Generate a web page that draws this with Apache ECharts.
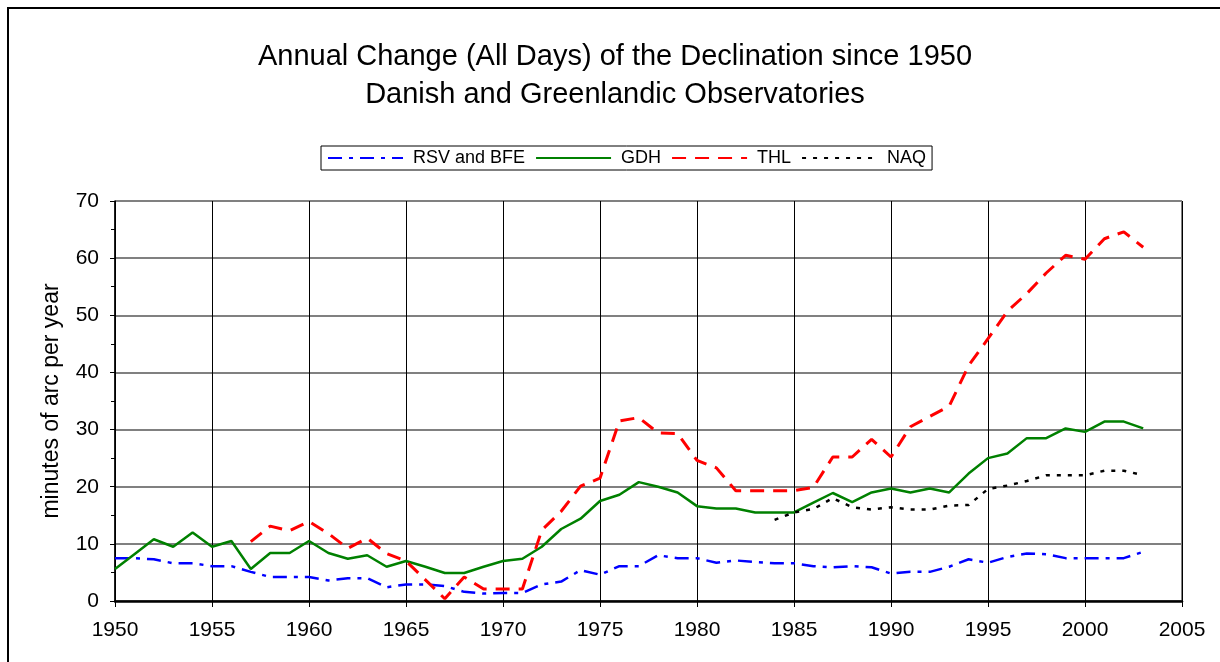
<!DOCTYPE html>
<html>
<head>
<meta charset="utf-8">
<title>Annual Change of the Declination</title>
<script src="https://cdn.jsdelivr.net/npm/echarts@6/dist/echarts.min.js"></script>
<style>
  html, body { margin: 0; padding: 0; background: #fff; }
  #chart { width: 1220px; height: 662px; }
</style>
</head>
<body>
<div id="chart"></div>
<script>
// years 1950 - 2003
const years = [];
for (let y = 1950; y <= 2003; y++) years.push(y);

const rsvBfe = [7.5, 7.5, 7.3, 6.6, 6.6, 6.1, 6.1, 5.1, 4.2, 4.2,
  4.2, 3.6, 4.0, 4.0, 2.4, 2.9, 2.9, 2.6, 1.6, 1.3,
  1.4, 1.4, 2.9, 3.4, 5.4, 4.6, 6.1, 6.1, 8.0, 7.5,
  7.5, 6.7, 7.1, 6.8, 6.6, 6.6, 6.1, 5.9, 6.1, 5.9,
  4.8, 5.1, 5.1, 6.0, 7.3, 6.7, 7.7, 8.3, 8.2, 7.5,
  7.5, 7.5, 7.5, 8.6];

const gdh = [5.6, 8.2, 10.8, 9.5, 12.0, 9.5, 10.5, 5.6, 8.4, 8.4,
  10.5, 8.4, 7.4, 8.0, 6.0, 7.0, 6.0, 4.9, 4.9, 6.0,
  7.0, 7.4, 9.5, 12.6, 14.4, 17.5, 18.6, 20.8, 20.0, 19.0,
  16.6, 16.2, 16.2, 15.5, 15.5, 15.5, 17.2, 18.9, 17.3, 19.0,
  19.7, 19.0, 19.7, 19.0, 22.3, 25.0, 25.8, 28.5, 28.5, 30.2,
  29.6, 31.4, 31.4, 30.2];

const thl = [null, null, null, null, null, null, null, 10.4, 13.1, 12.3,
  13.9, 11.8, 9.2, 11.0, 8.3, 7.0, 3.7, 0.4, 4.2, 2.1,
  2.1, 2.1, 12.4, 15.7, 20.1, 21.5, 31.5, 32.1, 29.4, 29.3,
  24.6, 23.3, 19.3, 19.3, 19.3, 19.3, 19.9, 25.2, 25.2, 28.3,
  25.2, 30.5, 32.3, 34.1, 41.2, 45.9, 50.7, 53.8, 57.4, 60.5,
  59.8, 63.4, 64.6, 61.9];

const naq = [null, null, null, null, null, null, null, null, null, null,
  null, null, null, null, null, null, null, null, null, null,
  null, null, null, null, null, null, null, null, null, null,
  null, null, null, null, 14.2, 15.5, 16.1, 18.0, 16.4, 16.0,
  16.4, 16.0, 16.0, 16.7, 16.8, 19.6, 20.2, 21.0, 22.0, 22.0,
  22.0, 22.8, 22.8, 22.0];

const pairs = arr => years.map((y, i) => [y, arr[i]]);

const font = 'Liberation Sans, Arial, sans-serif';
const chart = echarts.init(document.getElementById('chart'));

chart.setOption({
  animation: false,
  backgroundColor: '#fff',
  textStyle: { fontFamily: font },
  legend: {
    left: 321,
    top: 146,
    padding: [3, 6],
    itemGap: 10,
    itemWidth: 75,
    itemHeight: 14,
    borderColor: '#000',
    borderWidth: 1,
    itemStyle: { opacity: 0 },
    textStyle: { fontFamily: font, fontSize: 18, color: '#000', padding: [0, 0, 0, 5] },
    data: ['RSV and BFE', 'GDH', 'THL', 'NAQ']
  },
  grid: { left: 115, top: 201, right: 38, bottom: 61, show: true, borderColor: '#000', borderWidth: 1 },
  graphic: [
    {
      type: 'rect',
      shape: { x: 8, y: 8, width: 1400, height: 900 },
      style: { fill: 'none', stroke: '#000', lineWidth: 2 }
    },
    {
      type: 'text', x: 615, y: 57,
      style: {
        text: 'Annual Change (All Days) of the Declination since 1950',
        font: '29px ' + font, fill: '#000', textAlign: 'center', textVerticalAlign: 'middle'
      }
    },
    {
      type: 'text', x: 615, y: 95,
      style: {
        text: 'Danish and Greenlandic Observatories',
        font: '29px ' + font, fill: '#000', textAlign: 'center', textVerticalAlign: 'middle'
      }
    }
  ],
  xAxis: {
    type: 'value',
    min: 1950,
    max: 2005,
    interval: 5,
    axisLine: { lineStyle: { color: '#000', width: 2.5 } },
    axisTick: { show: true, length: 6, lineStyle: { color: '#000' } },
    axisLabel: { fontSize: 21, color: '#000', margin: 19, formatter: v => String(v) },
    splitLine: { show: true, lineStyle: { color: '#000', width: 1 } }
  },
  yAxis: {
    type: 'value',
    min: 0,
    max: 70,
    interval: 10,
    name: 'minutes of arc per year',
    nameLocation: 'middle',
    nameGap: 52,
    nameTextStyle: { fontSize: 23, color: '#000' },
    axisLine: { show: true, lineStyle: { color: '#000', width: 1.5 } },
    axisTick: { show: true, length: 5, lineStyle: { color: '#000' } },
    minorTick: { show: true, splitNumber: 2, length: 4, lineStyle: { color: '#000' } },
    axisLabel: { fontSize: 21, color: '#000', margin: 16 },
    splitLine: { show: true, lineStyle: { color: '#808080', width: 2 } }
  },
  series: [
    {
      name: 'RSV and BFE', type: 'line', data: pairs(rsvBfe), symbol: 'none',
      itemStyle: { color: '#0000ff' },
      lineStyle: { color: '#0000ff', width: 2.5, type: [14, 7, 4, 7] }
    },
    {
      name: 'GDH', type: 'line', data: pairs(gdh), symbol: 'none',
      itemStyle: { color: '#008000' },
      lineStyle: { color: '#008000', width: 2.5, type: 'solid' }
    },
    {
      name: 'THL', type: 'line', data: pairs(thl), symbol: 'none',
      itemStyle: { color: '#ff0000' },
      lineStyle: { color: '#ff0000', width: 3, type: [14, 9] }
    },
    {
      name: 'NAQ', type: 'line', data: pairs(naq), symbol: 'none',
      itemStyle: { color: '#000' },
      lineStyle: { color: '#000', width: 2.5, type: [4, 7] }
    }
  ]
});
</script>
</body>
</html>
